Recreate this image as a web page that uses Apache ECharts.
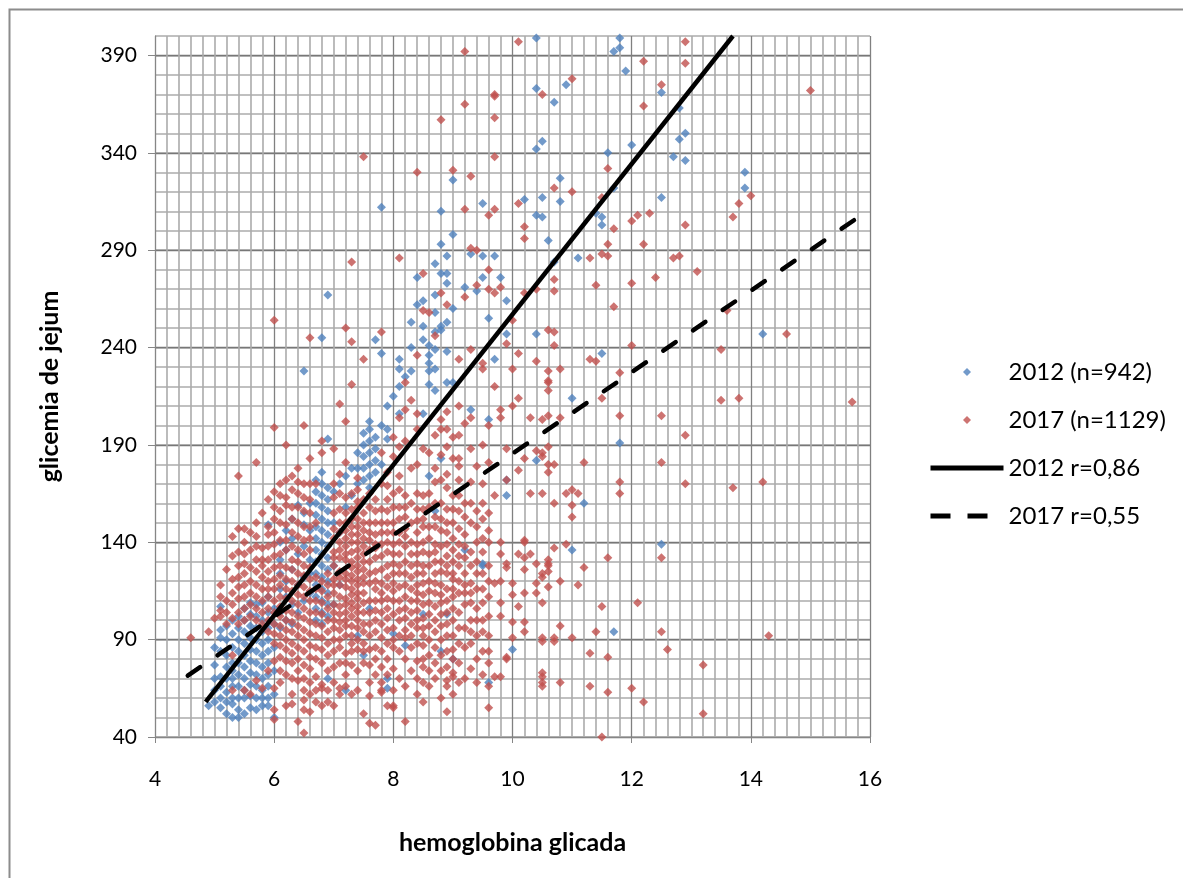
<!DOCTYPE html>
<html><head><meta charset="utf-8">
<script src="https://cdn.jsdelivr.net/npm/echarts@6/dist/echarts.min.js"></script>
<style>html,body{margin:0;padding:0;background:#fff}#c{width:1183px;height:878px}</style>
</head><body><div id="c"></div>
<script>
const xTicks = [4, 6, 8, 10, 12, 14, 16];
const yTicks = [40, 90, 140, 190, 240, 290, 340, 390];
const seriesNames = ['2012 (n=942)', '2017 (n=1129)', '2012 r=0,86', '2017 r=0,55'];
const xName = 'hemoglobina glicada';
const yName = 'glicemia de jejum';

// [x, [y values]] columns
const blue2012 = [
  [4.9, [56]],
  [5.0, [86, 77, 70, 64, 58]],
  [5.1, [95, 91, 84, 71, 66, 60, 55, 107]],
  [5.2, [52, 58, 63, 70, 76, 82, 90, 97]],
  [5.3, [78, 70, 60, 57, 50, 66, 74, 86, 93, 100]],
  [5.4, [54, 50, 60, 66, 72, 78, 84, 90, 96, 102]],
  [5.5, [60, 70, 52, 64, 76, 82, 88, 94, 100, 106]],
  [5.6, [55, 61, 67, 73, 79, 85, 91, 97, 103, 109]],
  [5.7, [60, 54, 66, 72, 78, 84, 90, 96, 102, 108]],
  [5.8, [60, 70, 56, 64, 76, 82, 88, 94, 100, 109]],
  [5.9, [56, 60, 66, 72, 78, 84, 90, 96, 104, 112, 149]],
  [6.0, [50, 62, 74, 86, 98, 106]],
  [6.1, [116, 131, 96, 104, 124, 140]],
  [6.2, [100, 112, 120, 136, 146]],
  [6.3, [98, 108, 126, 142, 152]],
  [6.4, [159, 104, 118, 134]],
  [6.5, [155, 149, 228, 110, 122, 138]],
  [6.6, [146, 131, 114, 124, 160]],
  [6.7, [100, 106, 112, 118, 124, 130, 136, 142, 148, 154, 160, 166, 172]],
  [6.8, [98, 104, 110, 116, 122, 128, 134, 140, 146, 152, 158, 164, 170, 176, 245]],
  [6.9, [102, 108, 114, 120, 126, 132, 138, 144, 150, 156, 162, 168, 193, 267, 70]],
  [7.0, [108, 128, 150, 166]],
  [7.1, [170, 145, 118]],
  [7.2, [64, 158, 174]],
  [7.3, [164, 178]],
  [7.4, [178, 92, 170, 186]],
  [7.5, [82, 172, 178, 184, 190, 196]],
  [7.6, [106, 168, 174, 180, 186, 192, 198, 202]],
  [7.7, [244, 176, 182, 188, 194]],
  [7.8, [312, 180, 237, 200]],
  [7.9, [198, 193, 70, 65, 210]],
  [8.0, [93, 215]],
  [8.1, [234, 229, 206, 220]],
  [8.2, [87, 225]],
  [8.3, [228, 253, 240]],
  [8.4, [276, 262]],
  [8.5, [103, 206, 264, 251, 244]],
  [8.6, [241, 236, 221, 228, 174, 232]],
  [8.7, [239, 229, 218, 283, 267, 258, 156, 248]],
  [8.8, [249, 310, 293, 278, 251, 183, 84]],
  [8.9, [287, 278, 273, 253, 103, 238, 222]],
  [9.0, [326, 298, 260, 222, 80]],
  [9.2, [271, 136]],
  [9.3, [208, 288]],
  [9.4, [269]],
  [9.5, [314, 287, 276, 129, 128]],
  [9.6, [203, 255, 68]],
  [9.7, [234, 287]],
  [9.8, [276]],
  [9.9, [247, 264, 164, 172]],
  [10.0, [85]],
  [10.2, [316]],
  [10.4, [399, 373, 342, 308, 247, 182]],
  [10.5, [346, 317, 307]],
  [10.6, [295]],
  [10.7, [366, 284]],
  [10.8, [327, 315]],
  [10.9, [375]],
  [11.0, [214, 136]],
  [11.1, [286]],
  [11.2, [160]],
  [11.4, [309]],
  [11.5, [307, 303, 237]],
  [11.6, [340]],
  [11.7, [392, 322, 94]],
  [11.8, [399, 394, 191]],
  [11.9, [382]],
  [12.0, [344]],
  [12.5, [371, 317, 139]],
  [12.7, [338]],
  [12.8, [363, 347]],
  [12.9, [350, 336]],
  [13.9, [330, 322]],
  [14.2, [247]]
];

const red2017 = [
  [4.6, [91]],
  [4.9, [94]],
  [5.0, [101]],
  [5.1, [102, 112, 105, 118]],
  [5.2, [98, 104, 110, 126]],
  [5.3, [64, 82, 143, 101, 108, 114, 121, 133]],
  [5.4, [174, 147, 122, 98, 104, 111, 117, 128, 135]],
  [5.5, [64, 147, 140, 129, 118, 100, 106, 112, 124, 134]],
  [5.6, [62, 102, 108, 114, 120, 127, 136, 145]],
  [5.7, [181, 69, 143, 106, 100, 112, 118, 125, 131, 138, 150]],
  [5.8, [65, 131, 98, 104, 110, 116, 122, 128, 137, 155]],
  [5.9, [74, 162, 148, 125, 116, 94, 100, 106, 112, 120, 131, 138, 144]],
  [6.0, [254, 199, 145, 79, 65, 54, 49, 110, 88, 93, 98, 104, 116, 121, 127, 133, 139, 152, 158, 166]],
  [6.1, [68, 74, 81, 87, 92, 97, 102, 107, 112, 118, 123, 128, 134, 141, 150, 164, 156, 170]],
  [6.2, [190, 159, 149, 136, 56, 72, 79, 85, 90, 95, 100, 105, 111, 116, 121, 127, 141, 172, 163]],
  [6.3, [62, 57, 78, 167, 70, 83, 88, 94, 99, 104, 110, 115, 120, 126, 131, 138, 145, 152, 158, 174]],
  [6.4, [69, 171, 48, 74, 80, 86, 92, 97, 102, 108, 113, 118, 124, 130, 143, 158, 136, 150, 165, 178]],
  [6.5, [64, 59, 54, 42, 200, 70, 77, 84, 90, 95, 101, 106, 112, 117, 123, 128, 134, 141, 163, 148, 156, 170]],
  [6.6, [245, 170, 53, 62, 68, 75, 81, 87, 93, 99, 104, 110, 115, 121, 127, 136, 155, 142, 148, 162, 183]],
  [6.7, [170, 150, 71, 58, 64, 80, 86, 92, 98, 104, 110, 116, 122]],
  [6.8, [65, 56, 192, 186, 67, 78, 85, 91, 97, 103, 109, 115, 120]],
  [6.9, [64, 58, 74, 82, 88, 94, 100, 106, 112, 118, 124]],
  [7.0, [56, 188, 170, 104, 68, 76, 84, 90, 96, 108, 114, 121, 128, 135, 142, 100, 118, 132, 147, 155, 163]],
  [7.1, [65, 211, 175, 107, 90, 62, 78, 86, 99, 112, 118, 125, 132, 140, 150, 157, 95, 103, 122, 136, 145, 165]],
  [7.2, [72, 202, 163, 250, 111, 66, 83, 97, 104, 117, 124, 131, 138, 146, 155, 78, 92, 100, 108, 121, 134, 142, 150, 181]],
  [7.3, [284, 221, 243, 77, 157, 140, 97, 62, 88, 102, 109, 116, 123, 130, 148, 84, 92, 106, 113, 120, 127, 135, 144, 152, 165]],
  [7.4, [161, 74, 64, 85, 100, 107, 114, 121, 128, 136, 144, 152, 173, 167, 90, 96, 104, 111, 118, 125, 132, 140, 148, 158]],
  [7.5, [338, 234, 119, 109, 94, 78, 52, 88, 126, 134, 142, 150, 84, 98, 104, 114, 122, 130, 138, 146, 155, 162]],
  [7.6, [77, 61, 47, 119, 98, 130, 145, 158, 68, 85, 92, 104, 110, 124, 136, 141, 150, 165]],
  [7.7, [139, 86, 46, 110, 125, 150, 162, 72, 80, 94, 100, 105, 116, 120, 132, 137, 144, 156]],
  [7.8, [248, 170, 68, 64, 119, 98, 91, 76, 63, 133, 145, 157, 84, 104, 110, 114, 126, 139, 150, 186]],
  [7.9, [176, 169, 111, 56, 128, 150, 162, 72, 80, 88, 95, 101, 106, 117, 122, 135, 140, 145, 156]],
  [8.0, [194, 184, 134, 124, 96, 90, 86, 56, 55, 110, 145, 158, 64, 75, 103, 115, 119, 129, 139, 150, 165]],
  [8.1, [189, 174, 167, 204, 124, 100, 286, 134, 105, 117, 140, 152, 70, 84, 92, 110, 128, 145, 158]],
  [8.2, [222, 208, 164, 153, 124, 95, 48, 91, 112, 138, 147, 66, 80, 101, 106, 118, 130, 143, 158, 192]],
  [8.3, [213, 86, 104, 128, 160, 74, 92, 98, 110, 116, 122, 134, 140, 150, 178]],
  [8.4, [236, 330, 206, 198, 134, 114, 96, 105, 124, 79, 62, 145, 157, 180, 70, 88, 100, 110, 118, 129, 139, 151, 165]],
  [8.5, [278, 259, 157, 148, 164, 135, 96, 76, 58, 124, 119, 108, 87, 68, 80, 92, 101, 113, 128, 140, 152, 188]],
  [8.6, [258, 66, 109, 142, 165, 186, 74, 82, 90, 97, 103, 115, 120, 128, 134, 148, 158]],
  [8.7, [246, 195, 171, 153, 139, 130, 124, 114, 100, 94, 148, 178, 70, 78, 86, 107, 119, 135, 160]],
  [8.8, [357, 268, 203, 198, 160, 146, 109, 90, 118, 172, 60, 74, 82, 97, 103, 113, 125, 130, 138, 152, 185]],
  [8.9, [262, 207, 189, 175, 157, 139, 133, 124, 116, 69, 66, 53, 145, 198, 76, 84, 92, 98, 104, 110, 128, 150, 168]],
  [9.0, [331, 164, 150, 124, 121, 100, 85, 73, 71, 136, 183, 62, 80, 92, 106, 112, 116, 130, 142, 157, 194]],
  [9.1, [234, 210, 179, 183, 164, 139, 114, 68, 128, 195, 78, 88, 96, 104, 120, 133, 147, 156, 172]],
  [9.2, [392, 365, 311, 266, 153, 124, 144, 108, 70, 86, 96, 114, 118, 132, 138, 160, 201]],
  [9.3, [239, 204, 188, 291, 328, 128, 119, 114, 109, 100, 75, 171, 88, 94, 135, 150, 160]],
  [9.4, [290, 272, 140, 116, 92, 156, 68, 80, 100, 106, 124, 130, 148, 179]],
  [9.5, [232, 229, 190, 170, 135, 124, 109, 84, 152, 72, 94, 100, 116, 142, 160]],
  [9.6, [308, 280, 270, 200, 146, 140, 112, 102, 92, 78, 66, 55, 84, 120, 128, 155, 181]],
  [9.7, [370, 369, 358, 338, 311, 268, 220, 164, 119, 71]],
  [9.8, [271, 208, 204, 134, 140, 120, 109, 102, 71]],
  [9.9, [242, 188, 172, 129, 127, 80, 81]],
  [10.0, [254, 229, 210, 119, 113, 99, 91]],
  [10.1, [397, 314, 237, 214, 177, 134, 107]],
  [10.2, [302, 296, 268, 183, 132, 141, 140, 126, 114, 99, 94]],
  [10.3, [204, 165, 134]],
  [10.4, [233, 270, 187, 129, 114, 119]],
  [10.5, [370, 203, 186, 184, 165, 122, 89, 71, 66, 124, 109, 91, 73, 68]],
  [10.6, [189, 176, 223, 249, 228, 222, 218, 205, 180, 129, 125, 117, 131, 128]],
  [10.7, [322, 275, 269, 248, 241, 180, 160, 137, 89, 91]],
  [10.8, [229, 204, 120, 97, 68]],
  [10.9, [165, 139]],
  [11.0, [378, 320, 167, 159, 153, 91]],
  [11.1, [165, 118]],
  [11.2, [181, 127]],
  [11.3, [286, 234, 83, 66]],
  [11.4, [272, 233, 94]],
  [11.5, [317, 288, 214, 107, 40]],
  [11.6, [332, 293, 287, 132, 81, 63]],
  [11.7, [301, 261]],
  [11.8, [227, 205, 171, 165]],
  [12.0, [305, 273, 241, 65]],
  [12.1, [308, 109]],
  [12.2, [387, 364, 293, 58]],
  [12.3, [309]],
  [12.4, [276]],
  [12.5, [375, 205, 181, 132, 94]],
  [12.6, [85]],
  [12.7, [286]],
  [12.8, [287]],
  [12.9, [397, 386, 303, 195, 170]],
  [13.1, [279]],
  [13.2, [77, 52]],
  [13.5, [239, 213]],
  [13.6, [259]],
  [13.7, [307, 168]],
  [13.8, [314, 214]],
  [14.0, [318]],
  [14.2, [171]],
  [14.3, [92]],
  [14.6, [247]],
  [15.0, [372]],
  [15.7, [212]]
];

// regression line end points
const trend2012 = [[4.85, 58], [13.7, 400]];
const trend2017 = [[4.55, 71.5], [16, 311]];

function expand(cols) {
  const out = [];
  cols.forEach(function (c) { c[1].forEach(function (y) { out.push([c[0], y]); }); });
  return out;
}

const FONT = 'Lato, Carlito, "Liberation Sans", sans-serif';
const DIAMOND = 'path://M5 0L10 5L5 10L0 5Z';
const chart = echarts.init(document.getElementById('c'), null, { renderer: 'canvas' });
chart.setOption({
  animation: false,
  backgroundColor: '#fff',
  graphic: [{
    type: 'rect', left: 7, top: 7, z: -10,
    shape: { width: 1300, height: 1000 },
    style: { fill: 'none', stroke: '#8c8c8c', lineWidth: 2 }
  }],
  grid: { left: 155, right: 313, top: 36, bottom: 141, outerBoundsMode: 'none' },
  legend: {
    orient: 'vertical', left: 923, top: 355,
    itemWidth: 73, itemHeight: 8, itemGap: 24,
    selectedMode: false, symbolKeepAspect: true,
    data: [
      { name: seriesNames[0], icon: DIAMOND },
      { name: seriesNames[1], icon: DIAMOND },
      { name: seriesNames[2], itemStyle: { opacity: 0 }, lineStyle: { width: 5, color: '#000' } },
      { name: seriesNames[3], itemStyle: { opacity: 0 }, lineStyle: { width: 5, color: '#000', type: [20, 17], cap: 'butt' } }
    ],
    textStyle: { fontSize: 24, fontFamily: FONT, color: '#000', lineHeight: 24 }
  },
  xAxis: {
    type: 'value', min: xTicks[0], max: xTicks[xTicks.length - 1], interval: 2,
    name: xName, nameLocation: 'middle', nameGap: 93,
    nameTextStyle: { fontSize: 25, fontWeight: 'bold', fontFamily: FONT, color: '#000' },
    axisLine: { show: true, lineStyle: { color: '#868686', width: 1 } },
    axisTick: { show: true, length: 6, lineStyle: { color: '#868686' } },
    axisLabel: { fontSize: 21, color: '#000', fontFamily: FONT, margin: 32 },
    splitLine: { show: true, lineStyle: { color: '#808080', width: 1.3 } },
    minorTick: { show: false, splitNumber: 10 },
    minorSplitLine: { show: true, lineStyle: { color: '#ababab', width: 1.6 } }
  },
  yAxis: [{
    type: 'value', min: 40, max: 400, interval: 10,
    axisLine: { show: false }, axisTick: { show: false }, axisLabel: { show: false },
    splitLine: { show: true, lineStyle: { color: '#ababab', width: 1.6 } }
  }, {
    type: 'value', min: 40, max: 400, interval: 50, position: 'left',
    name: yName, nameLocation: 'middle', nameGap: 93, nameRotate: 90,
    nameTextStyle: { fontSize: 25, fontWeight: 'bold', fontFamily: FONT, color: '#000' },
    axisLine: { show: true, lineStyle: { color: '#868686', width: 1 } },
    axisTick: { show: true, length: 7, customValues: yTicks, lineStyle: { color: '#868686' } },
    axisLabel: {
      customValues: yTicks, fontSize: 21, color: '#000', fontFamily: FONT, margin: 18,
      formatter: function (v) { return yTicks.indexOf(v) >= 0 ? String(v) : ''; }
    },
    splitLine: { show: true, lineStyle: { color: '#777777', width: 1.3 } }
  }],
  series: [{
    name: seriesNames[0], type: 'scatter', yAxisIndex: 0,
    data: expand(blue2012), symbol: 'diamond', symbolSize: 9,
    itemStyle: { color: '#4F81BD' }, z: 2
  }, {
    name: seriesNames[1], type: 'scatter', yAxisIndex: 0,
    data: expand(red2017), symbol: 'diamond', symbolSize: 9,
    itemStyle: { color: '#C0504D' }, z: 3
  }, {
    name: seriesNames[2], type: 'line', yAxisIndex: 0,
    data: trend2012, symbol: 'none', showSymbol: false,
    lineStyle: { color: '#000', width: 4.5 }, itemStyle: { color: '#000' }, z: 5
  }, {
    name: seriesNames[3], type: 'line', yAxisIndex: 0,
    data: trend2017, symbol: 'none', showSymbol: false,
    lineStyle: { color: '#000', width: 4.5, type: [15, 21], cap: 'round' }, itemStyle: { color: '#000' }, z: 5
  }]
});
</script>
</body></html>
